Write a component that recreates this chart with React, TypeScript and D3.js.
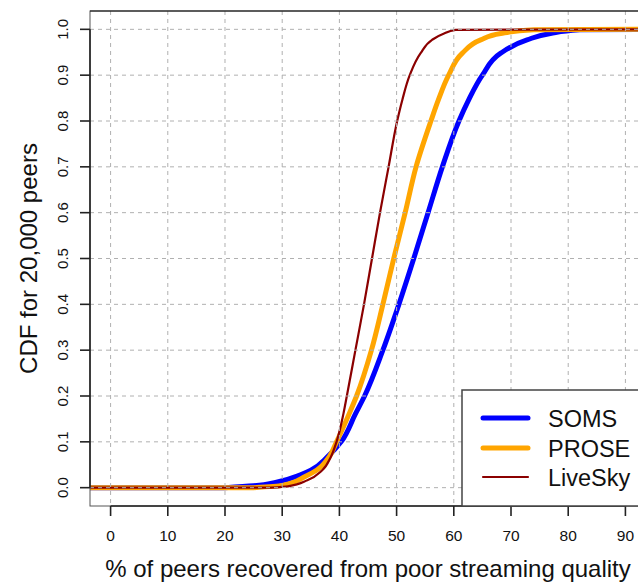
import React from "react";
import * as d3 from "d3";

// Empirical CDF samples: [% of peers recovered, cumulative fraction]
const somsX = [-3.6, 20, 25, 29, 33.2, 35.0, 37.9, 40.3, 42.8, 44.4, 47.6, 50.4, 53, 55.5, 58, 60.9, 62.6, 65.0, 68.2, 72.8, 76.9, 82, 93.6];
const somsY = [0, 0, 0.004, 0.012, 0.028, 0.038, 0.067, 0.1, 0.161, 0.2, 0.3, 0.4, 0.5, 0.6, 0.7, 0.8, 0.846, 0.9, 0.948, 0.977, 0.991, 0.999, 1];

const proseX = [-3.6, 25, 30, 34.1, 36.0, 38.2, 39.5, 41.7, 43.0, 45.6, 47.6, 49.5, 51.5, 53.4, 56, 57.3, 59.1, 61.5, 64.7, 68.2, 74, 93.6];
const proseY = [0, 0, 0.005, 0.025, 0.038, 0.067, 0.1, 0.161, 0.2, 0.3, 0.4, 0.5, 0.6, 0.7, 0.8, 0.846, 0.9, 0.948, 0.977, 0.991, 0.999, 1];

const liveskyX = [-3.6, 28, 31, 34.4, 37.0, 38.5, 39.5, 40.7, 41.3, 42.8, 44.3, 45.7, 47.1, 48.6, 50.1, 51.0, 52.3, 54.2, 56.2, 58.3, 60.3, 93.6];
const liveskyY = [0, 0, 0.003, 0.016, 0.038, 0.067, 0.1, 0.161, 0.2, 0.3, 0.4, 0.5, 0.6, 0.7, 0.8, 0.846, 0.9, 0.948, 0.977, 0.991, 0.999, 1];

const seriesNames = ["SOMS", "PROSE", "LiveSky"];
const seriesColors = ["#0000FF", "#FFA500", "#8B0000"];
const seriesWidths = [5, 5, 2.2];

const xTicks = [0, 10, 20, 30, 40, 50, 60, 70, 80, 90];
const yTicks = [0, 0.1, 0.2, 0.3, 0.4, 0.5, 0.6, 0.7, 0.8, 0.9, 1.0];

const xLabel = "% of peers recovered from poor streaming quality";
const yLabel = "CDF for 20,000 peers";

const W = 638;
const H = 583;
const plot = { left: 90, right: 646, top: 11, bottom: 506 };
const FONT = "'Liberation Sans', Arial, Helvetica, sans-serif";

export default function App() {
  const x = d3.scaleLinear().domain([-3.6, 93.6]).range([plot.left, plot.right]);
  const y = d3.scaleLinear().domain([-0.04, 1.04]).range([plot.bottom, plot.top]);

  const series = [
    { xs: somsX, ys: somsY },
    { xs: proseX, ys: proseY },
    { xs: liveskyX, ys: liveskyY },
  ];

  // The rising part is interpolated as x(y), which keeps the steep section smooth;
  // the flat run at CDF = 0 on the left is a straight segment.
  const rise = d3
    .line<[number, number]>()
    .x((d) => x(d[0]))
    .y((d) => y(d[1]))
    .curve(d3.curveMonotoneY);

  const cdfPath = (xs: number[], ys: number[]) => {
    const pts = xs.map((v, j) => [v, ys[j]] as [number, number]);
    const head = pts[0];
    const body = rise(pts.slice(1)) || "";
    return `M${x(head[0])},${y(head[1])}L${body.slice(1)}`;
  };

  const gridColor = "#b0b0b0";
  const legend = { left: 462, top: 390, right: plot.right, bottom: plot.bottom };
  const legendRows = [418, 448, 477];

  return (
    <svg
      width={W}
      height={H}
      style={{ position: "absolute", left: 0, top: 0, background: "#fff" }}
      fontFamily={FONT}
    >
      <defs>
        <clipPath id="plotClip">
          <rect x={plot.left} y={plot.top} width={plot.right - plot.left} height={plot.bottom - plot.top} />
        </clipPath>
      </defs>
      <rect x={0} y={0} width={W} height={H} fill="#fff" />

      {/* CDF curves */}
      <g clipPath="url(#plotClip)">
        {series.map((s, i) => (
          <path
            key={seriesNames[i]}
            d={cdfPath(s.xs, s.ys)}
            fill="none"
            stroke={seriesColors[i]}
            strokeWidth={seriesWidths[i]}
            strokeLinejoin="round"
          />
        ))}
      </g>

      {/* dashed grid */}
      <g stroke={gridColor} strokeWidth={1} strokeDasharray="4,4" clipPath="url(#plotClip)">
        {xTicks.map((t) => (
          <line key={"gx" + t} x1={x(t)} x2={x(t)} y1={plot.top} y2={plot.bottom} />
        ))}
        {yTicks.map((t) => (
          <line key={"gy" + t} x1={plot.left} x2={plot.right} y1={y(t)} y2={y(t)} />
        ))}
      </g>

      {/* plot box */}
      <rect
        x={plot.left}
        y={plot.top}
        width={plot.right - plot.left}
        height={plot.bottom - plot.top}
        fill="none"
        stroke="#555"
        strokeWidth={1}
      />
      <line x1={plot.left} x2={plot.right} y1={plot.top} y2={plot.top} stroke="#111" strokeWidth={1.2} />

      {/* x axis */}
      <g stroke="#222" strokeWidth={1.6}>
        <line x1={x(0)} x2={x(90)} y1={plot.bottom} y2={plot.bottom} />
        {xTicks.map((t) => (
          <line key={"xt" + t} x1={x(t)} x2={x(t)} y1={plot.bottom} y2={plot.bottom + 10} />
        ))}
      </g>
      {xTicks.map((t) => (
        <text key={"xl" + t} x={x(t)} y={541} textAnchor="middle" fontSize={15.5} fill="#111">
          {t}
        </text>
      ))}

      {/* y axis */}
      <g stroke="#222" strokeWidth={1.6}>
        <line x1={plot.left} x2={plot.left} y1={y(0)} y2={y(1)} />
        {yTicks.map((t) => (
          <line key={"yt" + t} x1={plot.left - 10} x2={plot.left} y1={y(t)} y2={y(t)} />
        ))}
      </g>
      {yTicks.map((t) => (
        <text
          key={"yl" + t}
          transform={`translate(68,${y(t)}) rotate(-90)`}
          textAnchor="middle"
          fontSize={15}
          fill="#111"
        >
          {t.toFixed(1)}
        </text>
      ))}

      {/* axis titles */}
      <text x={(plot.left + plot.right) / 2} y={577} textAnchor="middle" fontSize={24} fill="#111">
        {xLabel}
      </text>
      <text
        transform={`translate(37,${(plot.top + plot.bottom) / 2}) rotate(-90)`}
        textAnchor="middle"
        fontSize={24}
        fill="#111"
      >
        {yLabel}
      </text>

      {/* legend */}
      <rect
        x={legend.left}
        y={legend.top}
        width={legend.right - legend.left}
        height={legend.bottom - legend.top}
        fill="#fff"
        stroke="#444"
        strokeWidth={1.5}
      />
      {seriesNames.map((name, i) => (
        <g key={"lg" + name}>
          <line
            x1={483}
            x2={528}
            y1={legendRows[i]}
            y2={legendRows[i]}
            stroke={seriesColors[i]}
            strokeWidth={seriesWidths[i]}
            strokeLinecap="round"
          />
          <text x={548} y={legendRows[i] + 8.5} fontSize={23.5} fill="#111">
            {name}
          </text>
        </g>
      ))}
    </svg>
  );
}
